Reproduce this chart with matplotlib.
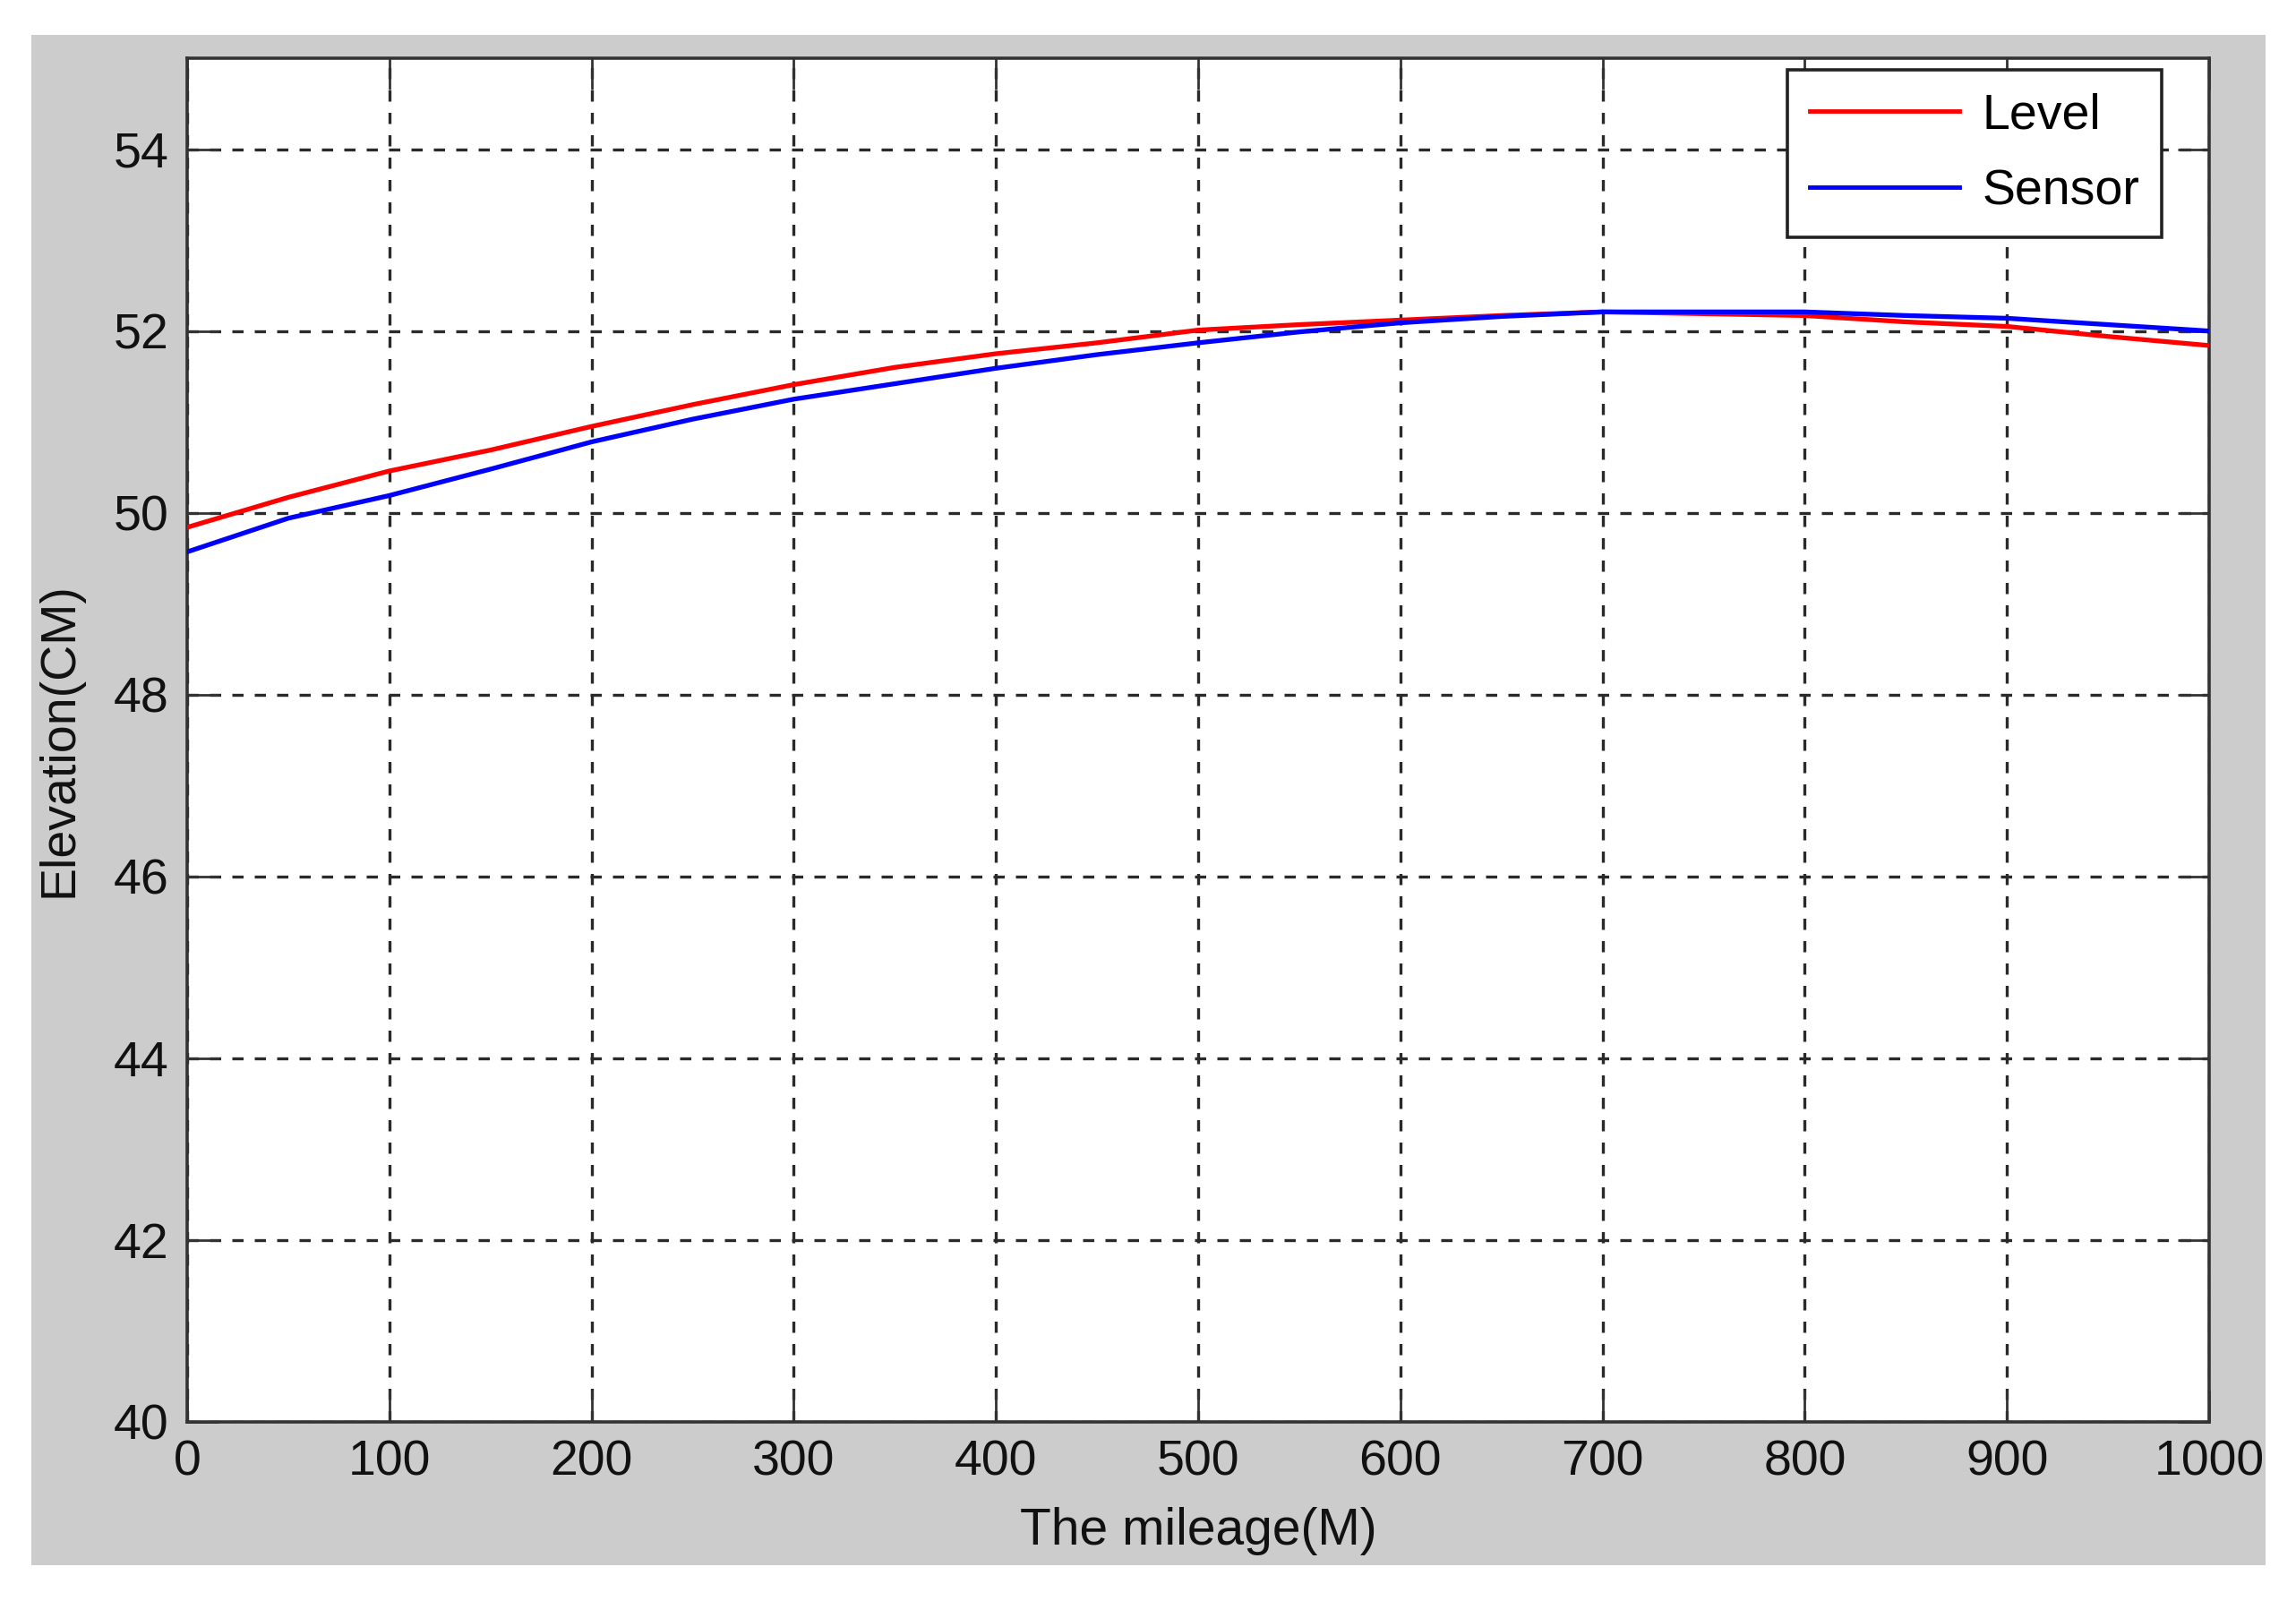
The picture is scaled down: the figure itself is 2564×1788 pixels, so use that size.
import matplotlib
matplotlib.use("Agg")
import matplotlib.pyplot as plt
from matplotlib.patches import Rectangle

# values
mileage = [0, 50, 100, 150, 200, 250, 300, 350, 400, 450, 500,
           550, 600, 650, 700, 750, 800, 850, 900, 950, 1000]
level = [49.84, 50.17, 50.46, 50.69, 50.95, 51.19, 51.41, 51.60, 51.75, 51.87, 52.01,
         52.07, 52.12, 52.17, 52.21, 52.19, 52.17, 52.10, 52.05, 51.94, 51.84]
sensor = [49.57, 49.94, 50.19, 50.48, 50.78, 51.03, 51.25, 51.42, 51.59, 51.74, 51.87,
          51.99, 52.09, 52.16, 52.21, 52.21, 52.21, 52.17, 52.14, 52.07, 52.00]
x_ticks = [0, 100, 200, 300, 400, 500, 600, 700, 800, 900, 1000]
y_ticks = [40, 42, 44, 46, 48, 50, 52, 54]

plt.rcParams['font.family'] = ['Liberation Sans', 'DejaVu Sans']
plt.rcParams['lines.scale_dashes'] = False

fig = plt.figure(figsize=(25.64, 17.88), dpi=100, facecolor='white')
# grey MATLAB-style figure panel, kept behind the axes
fig.patches.append(Rectangle((0.0137, 0.0224), 0.973, 0.9556, transform=fig.transFigure,
                             facecolor='#cccccc', edgecolor='none', zorder=-10))

ax = fig.add_axes([0.0815, 0.1119, 0.8807, 0.8517])
ax.set_facecolor('white')

ax.plot(mileage, level, color='#ff0000', linewidth=3.8, label='Level', zorder=3)
ax.plot(mileage, sensor, color='#0000ff', linewidth=3.8, label='Sensor', zorder=3)

ax.set_xlim(0, 1000)
ax.set_ylim(40, 55)
ax.set_xticks(x_ticks)
ax.set_yticks(y_ticks)

ax.grid(True, color='#2a2a2a', linewidth=2.4, linestyle=(0, (9, 9)))
ax.set_axisbelow(True)

for s in ax.spines.values():
    s.set_color('#333333')
    s.set_linewidth(2.6)

ax.tick_params(axis='both', direction='in', length=25, width=2, color='#333333',
               top=True, right=True, labelsize=40, labelcolor='#111111')
ax.tick_params(axis='x', pad=14)
ax.tick_params(axis='y', pad=15)

ax.set_xlabel('The mileage(M)', fontsize=41, color='#111111', labelpad=17)
ax.set_ylabel('Elevation(CM)', fontsize=40, color='#111111', labelpad=24)

leg = ax.legend(loc='upper right', bbox_to_anchor=(0.9765, 0.9915), borderaxespad=0,
                fontsize=40, fancybox=False, framealpha=1, handlelength=3.0,
                handletextpad=0.45, borderpad=0.45, labelspacing=0.6)
leg.get_frame().set_edgecolor('#222222')
leg.get_frame().set_linewidth(2.6)
for h in leg.get_lines():
    h.set_linewidth(3.5)

fig.savefig('out.png', dpi=100, facecolor='white')
